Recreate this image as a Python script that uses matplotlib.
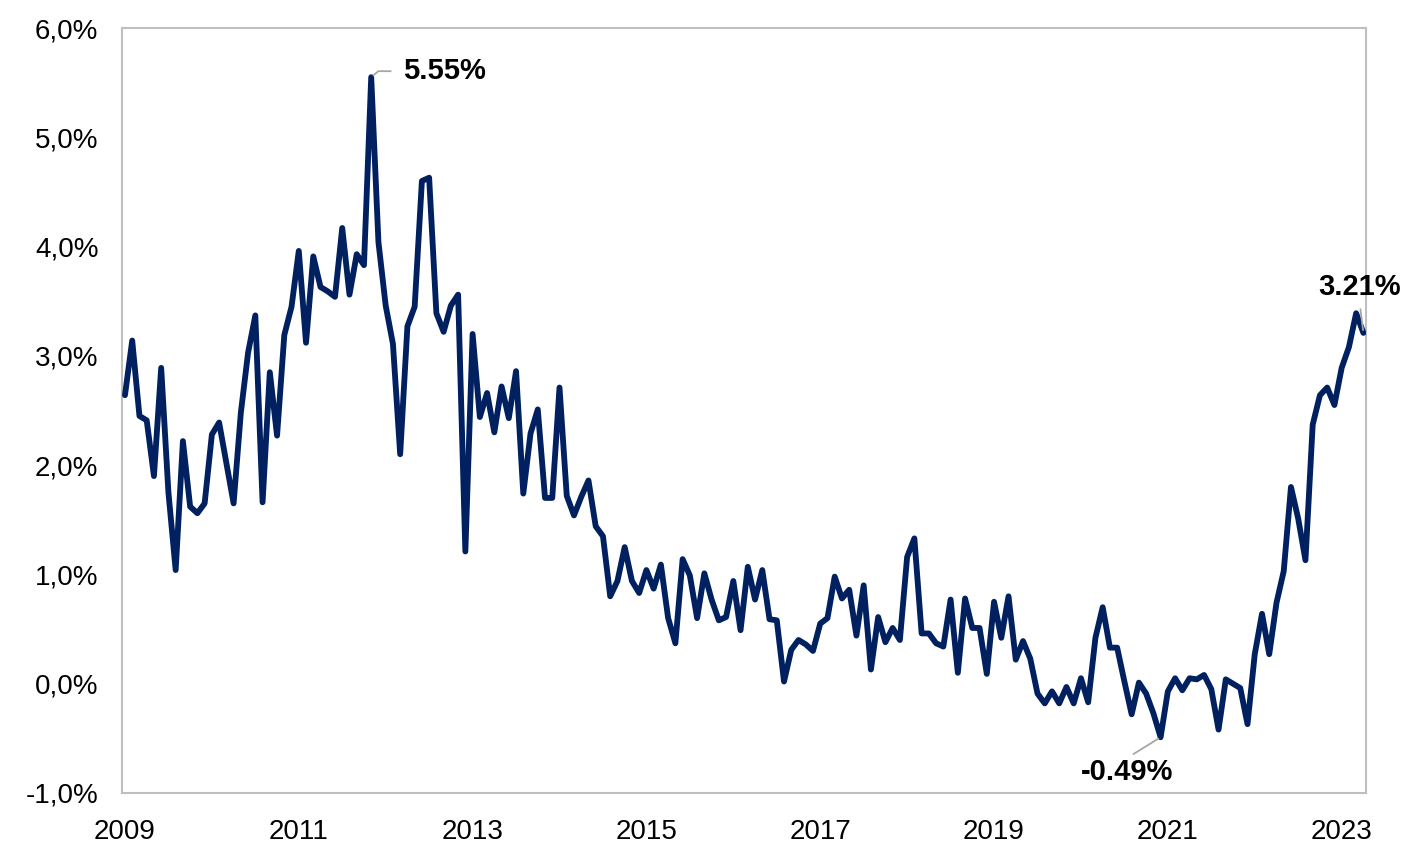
import matplotlib
matplotlib.use("Agg")
import matplotlib.pyplot as plt
from matplotlib.ticker import FuncFormatter, FixedLocator

plt.rcParams['font.family'] = ['Liberation Sans', 'DejaVu Sans']

# Monthly values (%), Jan 2009 - Apr 2023
v2009 = [2.64, 3.14, 2.45, 2.41, 1.90, 2.89, 1.75, 1.04, 2.22, 1.62, 1.56, 1.65]
v2010 = [2.28, 2.39, 2.02, 1.65, 2.48, 3.03, 3.37, 1.66, 2.85, 2.27, 3.19, 3.45]
v2011 = [3.96, 3.12, 3.91, 3.63, 3.59, 3.54, 4.17, 3.56, 3.93, 3.83, 5.55, 4.04]
v2012 = [3.46, 3.11, 2.10, 3.27, 3.45, 4.60, 4.63, 3.39, 3.22, 3.46, 3.56, 1.21]
v2013 = [3.20, 2.44, 2.66, 2.30, 2.72, 2.43, 2.86, 1.74, 2.29, 2.51, 1.70, 1.70]
v2014 = [2.71, 1.72, 1.54, 1.71, 1.86, 1.44, 1.35, 0.80, 0.94, 1.25, 0.94, 0.83]
v2015 = [1.04, 0.87, 1.09, 0.60, 0.37, 1.14, 0.99, 0.60, 1.01, 0.77, 0.58, 0.61]
v2016 = [0.94, 0.49, 1.07, 0.77, 1.04, 0.59, 0.58, 0.02, 0.31, 0.40, 0.36, 0.30]
v2017 = [0.55, 0.60, 0.98, 0.78, 0.86, 0.44, 0.90, 0.13, 0.61, 0.38, 0.51, 0.40]
v2018 = [1.16, 1.33, 0.46, 0.46, 0.37, 0.34, 0.77, 0.10, 0.78, 0.51, 0.51, 0.09]
v2019 = [0.75, 0.42, 0.80, 0.22, 0.39, 0.23, -0.09, -0.18, -0.07, -0.18, -0.03, -0.18]
v2020 = [0.05, -0.17, 0.42, 0.70, 0.33, 0.33, 0.02, -0.28, 0.01, -0.09, -0.27, -0.49]
v2021 = [-0.07, 0.05, -0.06, 0.05, 0.04, 0.08, -0.05, -0.42, 0.04, 0.00, -0.04, -0.37]
v2022 = [0.27, 0.64, 0.27, 0.74, 1.03, 1.80, 1.51, 1.13, 2.37, 2.64, 2.71, 2.55]
v2023 = [2.89, 3.08, 3.39, 3.21]

values = (v2009 + v2010 + v2011 + v2012 + v2013 + v2014 + v2015 + v2016
          + v2017 + v2018 + v2019 + v2020 + v2021 + v2022 + v2023)
months = list(range(len(values)))          # month index from Jan 2009
year_labels = ['2009', '2011', '2013', '2015', '2017', '2019', '2021', '2023']
year_ticks = [12 * (int(y) - 2009) for y in year_labels]

# annotated points (month index)
peak_idx, low_idx, last_idx = 34, 143, len(values) - 1

fig = plt.figure(figsize=(14.09, 8.44), dpi=100)
ax = fig.add_axes([122 / 1409, 1 - 793 / 844, (1366 - 122) / 1409, (793 - 28) / 844])

ax.plot(months, values, color='#002060', lw=4.2, solid_joinstyle='round', solid_capstyle='round', zorder=3)

ax.set_xlim(-0.41, 171.36)
ax.set_ylim(-1, 6)
ax.xaxis.set_major_locator(FixedLocator(year_ticks))
ax.set_xticklabels(year_labels)
ax.set_yticks([-1, 0, 1, 2, 3, 4, 5, 6])
ax.yaxis.set_major_formatter(FuncFormatter(lambda v, p: f"{v:.1f}%".replace('.', ',')))
ax.tick_params(axis='both', length=0, labelsize=20, colors='black')
ax.tick_params(axis='y', pad=17)
ax.tick_params(axis='x', pad=19)
for s in ax.spines.values():
    s.set_color('#BFBFBF')
    s.set_linewidth(1.5)

lead = dict(arrowstyle='-', color='#A6A6A6', lw=1.3)

ax.annotate(f"{values[peak_idx]:.2f}%", xy=(peak_idx, values[peak_idx]), xytext=(32, 6),
            textcoords='offset pixels', ha='left', va='center', fontsize=21, fontweight='bold',
            arrowprops=dict(**lead, connectionstyle='angle,angleA=0,angleB=40,rad=0',
                            relpos=(0, 0.5), shrinkA=7, shrinkB=2))
ax.annotate(f"{values[low_idx]:.2f}%", xy=(low_idx, values[low_idx]), xytext=(-34, -35),
            textcoords='offset pixels', ha='center', va='center', fontsize=21, fontweight='bold',
            arrowprops=dict(**lead, relpos=(0.5, 1), shrinkA=2, shrinkB=2))
ax.annotate(f"{values[last_idx]:.2f}%", xy=(last_idx, values[last_idx]), xytext=(-4, 46),
            textcoords='offset pixels', ha='center', va='center', fontsize=21, fontweight='bold',
            arrowprops=dict(**lead, relpos=(0.5, 0), shrinkA=4, shrinkB=2))

fig.savefig('out.png', dpi=100)
